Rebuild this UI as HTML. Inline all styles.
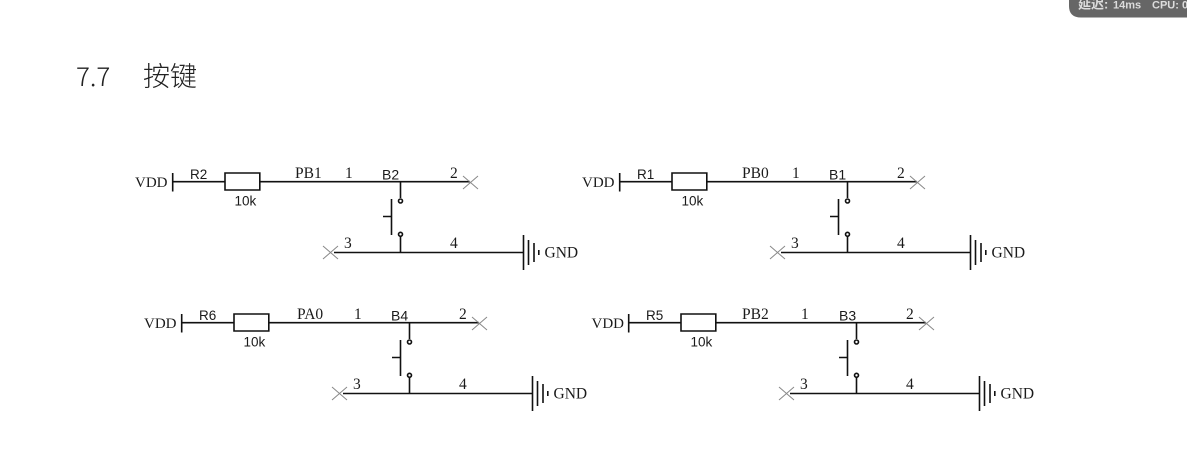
<!DOCTYPE html>
<html><head><meta charset="utf-8"><style>
html,body{margin:0;padding:0;background:#fff;width:1187px;height:459px;overflow:hidden}
svg{display:block}
.s{font-family:"Liberation Serif",serif;font-size:15.500px;fill:#1a1a1a}
.v{font-family:"Liberation Serif",serif;font-size:15px;fill:#1a1a1a}
.a{font-family:"Liberation Sans",sans-serif;font-size:13.500px;fill:#1a1a1a}
.b{font-family:"Liberation Sans",sans-serif;font-size:14px;fill:#1a1a1a}
.w{stroke:#111;stroke-width:1.600;fill:none}
.x{stroke:#888;stroke-width:1;fill:none}
</style></head><body>
<svg width="1187" height="459" viewBox="0 0 1187 459" xmlns="http://www.w3.org/2000/svg">
<defs>
<g id="c">
<path class="w" d="M172.700 181.700H225M260 181.700H470M172.700 173V191.500M225 173H259.800V190H225Z"/>
<path class="x" d="M463 176L478 189M478 176L463 189M323 246L338 259M338 246L323 259"/>
<path class="w" d="M400.500 182V198M400.500 236V252.500M334 252.500H523M391.500 199V235M383 216.500H391.500"/>
<circle class="w" cx="400.500" cy="201" r="2"/><circle class="w" cx="400.500" cy="234.300" r="2"/>
<path class="w" d="M523.500 235V270M528.500 240V265M534 243V262M538.800 250V255"/>
<text class="s" x="544.500" y="257.500">GND</text>
</g>
</defs>
<path d="M1069 0H1187V17.500H1081Q1069 17.500 1069 6Z" fill="#666"/>
<g font-family="'Liberation Sans','Noto Sans CJK SC',sans-serif" font-weight="bold" fill="#ddd">
<text x="1078" y="8.500" font-size="13">延迟:</text>
<text x="1113" y="8.500" font-size="11">14ms</text>
<text x="1152" y="8.500" font-size="11">CPU: 0</text>
</g>
<text x="76" y="86" font-family="'Noto Sans CJK SC','Liberation Sans',sans-serif" font-weight="300" font-size="26" fill="#222">7.7</text>
<text x="143" y="86" font-family="'Noto Sans CJK SC',sans-serif" font-size="27" font-weight="300" fill="#222">按键</text>

<use href="#c"/>
<text class="v" x="135" y="187">VDD</text><text class="a" x="190" y="179">R2</text><text class="a" x="234.500" y="205.500">10k</text>
<text class="s" x="295" y="178">PB1</text><text class="s" x="345" y="178">1</text><text class="b" x="382" y="179.500">B2</text><text class="s" x="450" y="178">2</text><text class="s" x="344" y="248">3</text><text class="s" x="450" y="248">4</text>

<use href="#c" x="447"/>
<text class="v" x="582" y="187">VDD</text><text class="a" x="637" y="179">R1</text><text class="a" x="681.500" y="205.500">10k</text>
<text class="s" x="742" y="178">PB0</text><text class="s" x="792" y="178">1</text><text class="b" x="829" y="179.500">B1</text><text class="s" x="897" y="178">2</text><text class="s" x="791" y="248">3</text><text class="s" x="897" y="248">4</text>

<use href="#c" x="9" y="141"/>
<text class="v" x="144" y="328">VDD</text><text class="a" x="199" y="320">R6</text><text class="a" x="243.500" y="346.500">10k</text>
<text class="s" x="297" y="319">PA0</text><text class="s" x="354" y="319">1</text><text class="b" x="391" y="320.500">B4</text><text class="s" x="459" y="319">2</text><text class="s" x="353" y="389">3</text><text class="s" x="459" y="389">4</text>

<use href="#c" x="456" y="141"/>
<text class="v" x="591.500" y="328">VDD</text><text class="a" x="646" y="320">R5</text><text class="a" x="690.500" y="346.500">10k</text>
<text class="s" x="742" y="319">PB2</text><text class="s" x="801" y="319">1</text><text class="b" x="839" y="320.500">B3</text><text class="s" x="906" y="319">2</text><text class="s" x="800" y="389">3</text><text class="s" x="906" y="389">4</text>
</svg>
</body></html>
